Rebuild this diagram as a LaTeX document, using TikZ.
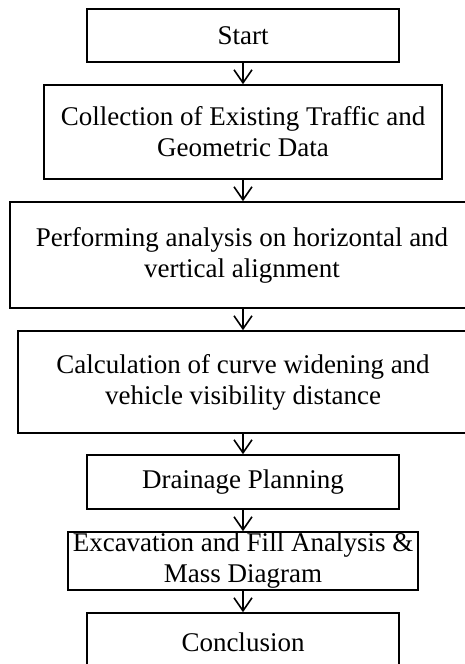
\documentclass[tikz,border=0pt]{standalone}
\usepackage{fontspec}
\setmainfont{Liberation Serif}
\usetikzlibrary{arrows.meta}
\begin{document}
\begin{tikzpicture}[x=1pt,y=-1pt,
  box/.style={draw=black,line width=1.6pt,rectangle,align=center,inner sep=0pt,
    font=\fontsize{27}{31}\selectfont},
  arr/.style={draw=black,line width=1.6pt,-{Straight Barb[length=13pt,width=18pt,line width=1.6pt]}}]
\useasboundingbox (0,0) rectangle (464,664);
\node[box,minimum width=312pt,minimum height=53pt] (start) at (243,35.5) {Start};
\node[box,minimum width=398pt,minimum height=94pt] (coll) at (243,132) {Collection of Existing Traffic and\\Geometric Data};
\node[box,minimum width=464pt,minimum height=106pt] (perf) at (242,255) {Performing analysis on horizontal and\\vertical alignment};
\node[box,minimum width=450pt,minimum height=102pt] (calc) at (243,382) {Calculation of curve widening and\\vehicle visibility distance};
\node[box,minimum width=312pt,minimum height=54pt] (drain) at (243,482) {Drainage Planning};
\node[box,minimum width=350pt,minimum height=58pt] (exc) at (243,561) {Excavation and Fill Analysis \&\\Mass Diagram};
\node[box,minimum width=312pt,minimum height=58pt] (concl) at (243,642) {Conclusion};
\draw[arr] (start.south) -- (coll.north);
\draw[arr] (coll.south) -- (coll.south |- perf.north);
\draw[arr] (coll.south |- perf.south) -- (coll.south |- calc.north);
\draw[arr] (coll.south |- calc.south) -- (drain.north);
\draw[arr] (drain.south) -- (exc.north);
\draw[arr] (exc.south) -- (concl.north);
\end{tikzpicture}
\end{document}
